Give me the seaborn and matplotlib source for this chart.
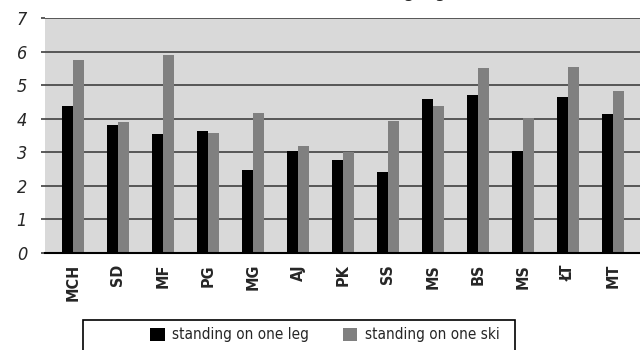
import matplotlib
matplotlib.use("Agg")
import matplotlib.pyplot as plt
from matplotlib.patches import Rectangle
import pandas as pd
import seaborn as sns

# Subjects (initials) and mean surface areas for the two stances
subjects = ["MCH", "SD", "MF", "PG", "MG", "AJ", "PK", "SS", "MS", "BS", "MS", "ŁT", "MT"]
one_leg = [4.38, 3.81, 3.54, 3.63, 2.47, 3.04, 2.77, 2.41, 4.59, 4.71, 3.04, 4.65, 4.14]
one_ski = [5.75, 3.90, 5.90, 3.57, 4.17, 3.19, 3.00, 3.93, 4.38, 5.51, 4.03, 5.54, 4.83]
series = ["standing on one leg", "standing on one ski"]
title = "Total surface area of the standing leg [cm²]"

sns.set_theme(style="white")
plt.rcParams["font.family"] = ["DejaVu Sans"]
plt.rcParams["font.stretch"] = "condensed"

# Long table; positional index keeps the two "MS" subjects apart
rows = []
for i, (a, b) in enumerate(zip(one_leg, one_ski)):
    rows.append({"pos": i, "stance": series[0], "area": a})
    rows.append({"pos": i, "stance": series[1], "area": b})
df = pd.DataFrame(rows)

fig = plt.figure(figsize=(6.4, 3.5), dpi=100)
ax = fig.add_axes([45 / 640, 1 - 253 / 350, 1 - 45 / 640, (253 - 18) / 350])
ax.set_facecolor("#d9d9d9")

sns.barplot(data=df, x="pos", y="area", hue="stance", hue_order=series,
            palette=["#000000", "#808080"], width=0.49, gap=0,
            saturation=1, errorbar=None, ax=ax, legend=True, zorder=3,
            linewidth=0, edgecolor="none")

ax.set_ylim(0, 7)
ax.set_xlim(-0.62, 12.6)
ax.set_yticks(range(8))
ax.set_yticklabels([str(v) for v in range(8)], fontsize=13, style="italic",
                   fontstretch="condensed")
ax.set_xticks(range(len(subjects)))
ax.set_xticklabels(subjects, rotation=90, fontsize=11.5, fontweight="bold",
                   fontstretch="condensed")
ax.set_xlabel("")
ax.set_ylabel("")

ax.yaxis.grid(True, color="#404040", linewidth=1.2, zorder=1)
ax.set_axisbelow(True)
ax.tick_params(axis="y", length=3, width=1.2, color="#404040", pad=10, left=True)
ax.tick_params(axis="x", length=0, pad=8)
for side in ["top", "right", "left"]:
    ax.spines[side].set_visible(False)
ax.spines["bottom"].set_color("black")
ax.spines["bottom"].set_linewidth(1.5)
ax.spines["bottom"].set_zorder(4)

# Legend below the axes in a box that runs off the bottom edge
handles, labels = ax.get_legend_handles_labels()
ax.get_legend().remove()
fig.legend(handles, labels, ncol=2, frameon=False, loc="center left",
           bbox_to_anchor=(144 / 640, 1 - 335 / 350),
           prop={"size": 11, "stretch": "condensed"},
           handlelength=0.95, handleheight=0.95, handletextpad=0.5,
           columnspacing=2.2, borderaxespad=0)
fig.patches.append(Rectangle((83 / 640, -0.1), 432 / 640, 0.1 + (350 - 320) / 350,
                             transform=fig.transFigure, fill=False,
                             edgecolor="black", linewidth=1.2))

fig.text(312 / 640, 1 + 3 / 350, title, ha="center", va="baseline",
         fontsize=12, fontweight="bold", fontstretch="condensed")

fig.savefig("out.png", dpi=100)
